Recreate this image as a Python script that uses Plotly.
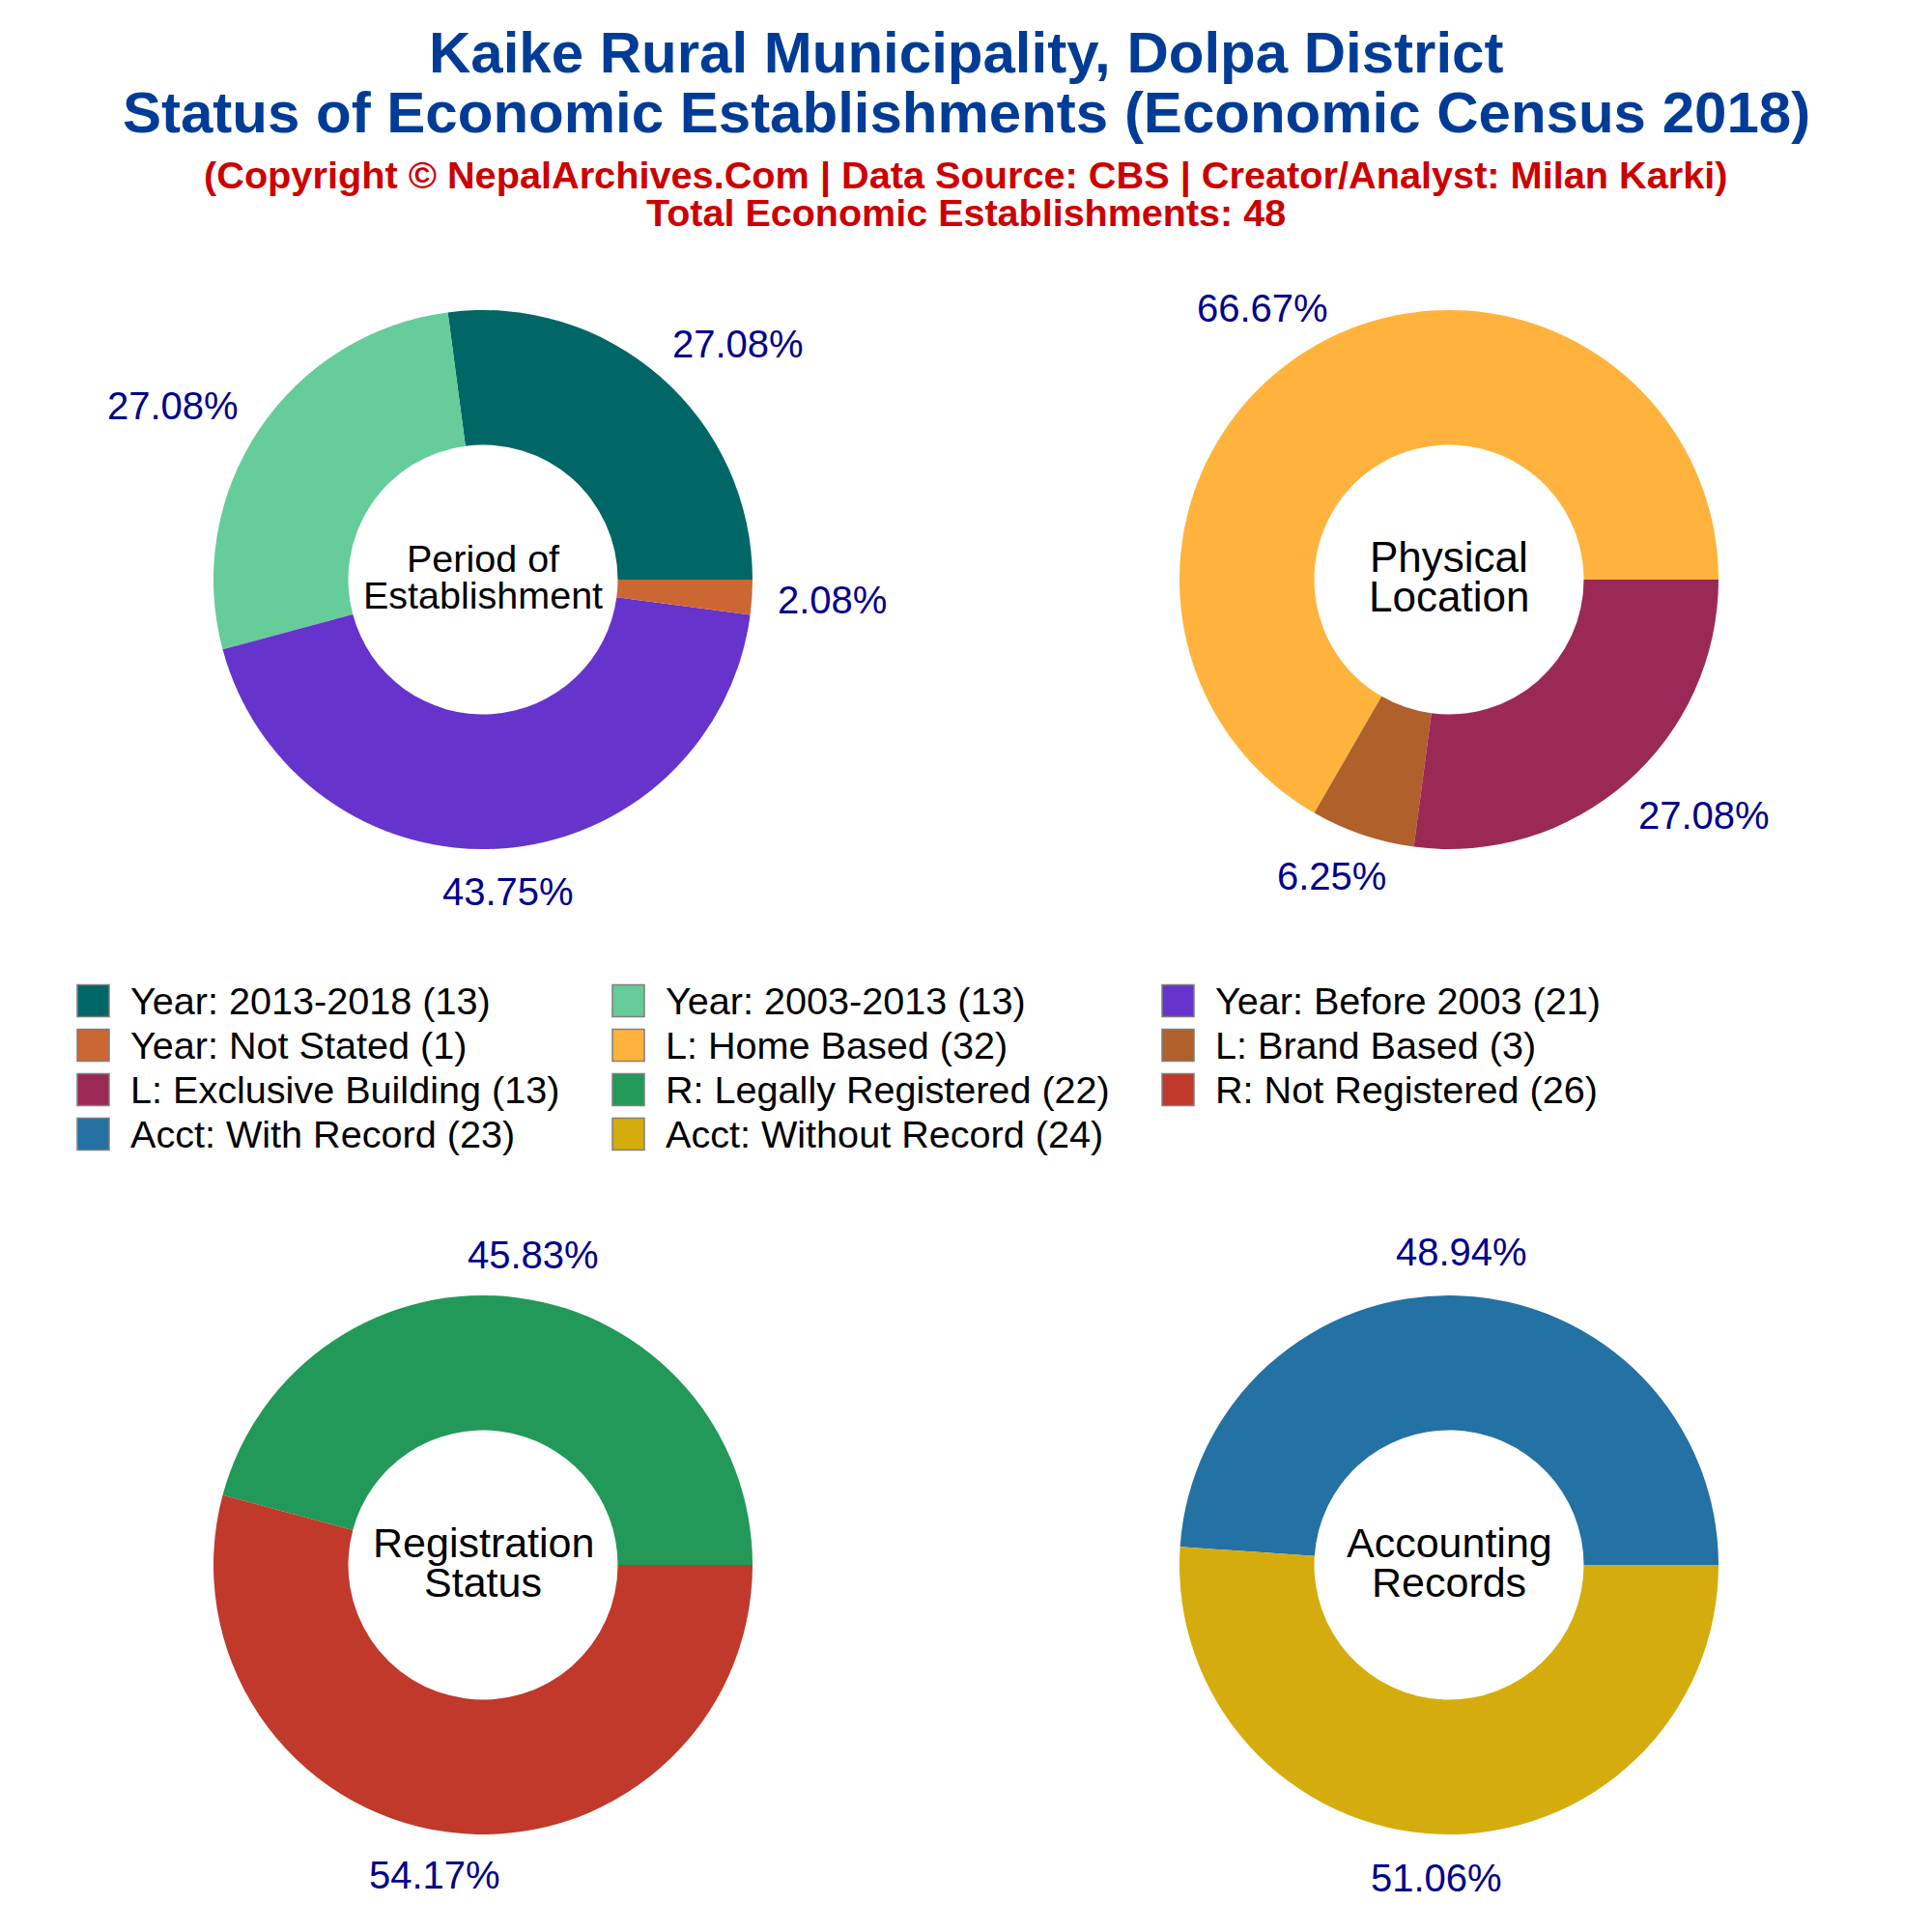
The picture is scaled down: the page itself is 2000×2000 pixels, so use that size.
import math
import plotly.graph_objects as go

W = H = 2000
NAVY = "#00008B"
FONT = "Liberation Sans"

title_lines = ["Kaike Rural Municipality, Dolpa District",
               "Status of Economic Establishments (Economic Census 2018)"]
sub_lines = ["(Copyright © NepalArchives.Com | Data Source: CBS | Creator/Analyst: Milan Karki)",
             "Total Economic Establishments: 48"]

period_labels = ["Year: 2013-2018", "Year: 2003-2013", "Year: Before 2003", "Year: Not Stated"]
period_values = [13, 13, 21, 1]
period_colors = ["#006666", "#66CC99", "#6633CC", "#CC6633"]
period_pct = ["27.08%", "27.08%", "43.75%", "2.08%"]

location_labels = ["L: Home Based", "L: Brand Based", "L: Exclusive Building"]
location_values = [32, 3, 13]
location_colors = ["#FFB33C", "#AF602B", "#9B2955"]
location_pct = ["66.67%", "6.25%", "27.08%"]

reg_labels = ["R: Legally Registered", "R: Not Registered"]
reg_values = [22, 26]
reg_colors = ["#229958", "#C0392B"]
reg_pct = ["45.83%", "54.17%"]

acct_labels = ["Acct: With Record", "Acct: Without Record"]
acct_values = [23, 24]
acct_colors = ["#2471A3", "#D4AC0D"]
acct_pct = ["48.94%", "51.06%"]

centre_titles = [("Period of", "Establishment"), ("Physical", "Location"),
                 ("Registration", "Status"), ("Accounting", "Records")]

panels = [
    (period_labels, period_values, period_colors, period_pct, 500, 600),
    (location_labels, location_values, location_colors, location_pct, 1500, 600),
    (reg_labels, reg_values, reg_colors, reg_pct, 500, 1620),
    (acct_labels, acct_values, acct_colors, acct_pct, 1500, 1620),
]

R = 279
OFFSET = 8  # default page margin of the written html
px = lambda v: (v - OFFSET) / W
py = lambda v: 1 - (v - OFFSET) / H

fig = go.Figure()
ann = []
shapes = []


def text(x, y, s, size, color, bold=False, anchor="center"):
    ann.append(dict(x=px(x), y=py(y), xref="paper", yref="paper", text=f"<b>{s}</b>" if bold else s,
                    showarrow=False, xanchor=anchor, yanchor="middle",
                    font=dict(family=FONT, size=size, color=color)))


for (labels, values, colors, pct, cx, cy), ctitle, csize, gap in zip(
        panels, centre_titles, [39.5, 44, 43, 43], [38, 42, 41, 41]):
    total = sum(values)
    fig.add_trace(go.Pie(labels=labels, values=values, sort=False, direction="counterclockwise",
                         rotation=90 - values[0] / total * 360, hole=0.5, textinfo="none",
                         showlegend=False, marker=dict(colors=colors, line=dict(width=0)),
                         domain=dict(x=[px(cx - R), px(cx + R)], y=[py(cy + R), py(cy - R)])))
    cum = 0
    for v, p in zip(values, pct):
        mid = (cum + v / 2) / total * 2 * math.pi
        cum += v
        right = math.cos(mid) > 0
        if len(p) < 6:
            a = 362 if right else 378
        else:
            a = 400 if right else 386
        text(cx + a * math.cos(mid), cy - 324 * math.sin(mid), p, 40, NAVY)
    text(cx, cy - 3 - gap / 2, ctitle[0], csize, "black")
    text(cx, cy - 3 + gap / 2, ctitle[1], csize, "black")

text(1000, 55, title_lines[0], 60, "#003C96", True)
text(1000, 117, title_lines[1], 60, "#003C96", True)
text(1000, 182, sub_lines[0], 39.7, "#CC0000", True)
text(1000, 220, sub_lines[1], 39.5, "#CC0000", True)

legend_labels = sum((p[0] for p in panels), [])
legend_values = sum((p[1] for p in panels), [])
legend_colors = sum((p[2] for p in panels), [])
col_x = [80, 634, 1203]
row_y = [1036, 1082, 1128, 1174]
for i, (l, v, c) in enumerate(zip(legend_labels, legend_values, legend_colors)):
    x0 = col_x[i % 3]
    yc = row_y[i // 3]
    shapes.append(dict(type="rect", xref="paper", yref="paper", x0=px(x0), x1=px(x0 + 33),
                       y0=py(yc + 16.5), y1=py(yc - 16.5), fillcolor=c,
                       line=dict(color="#7F7F7F", width=1.5)))
    text(x0 + 53, yc, f"{l} ({v})", 39.6, "black", anchor="left")

fig.update_layout(width=W, height=H, margin=dict(l=0, r=0, t=0, b=0), paper_bgcolor="white",
                  annotations=ann, shapes=shapes, font=dict(family=FONT))
fig.write_html("out.html")
